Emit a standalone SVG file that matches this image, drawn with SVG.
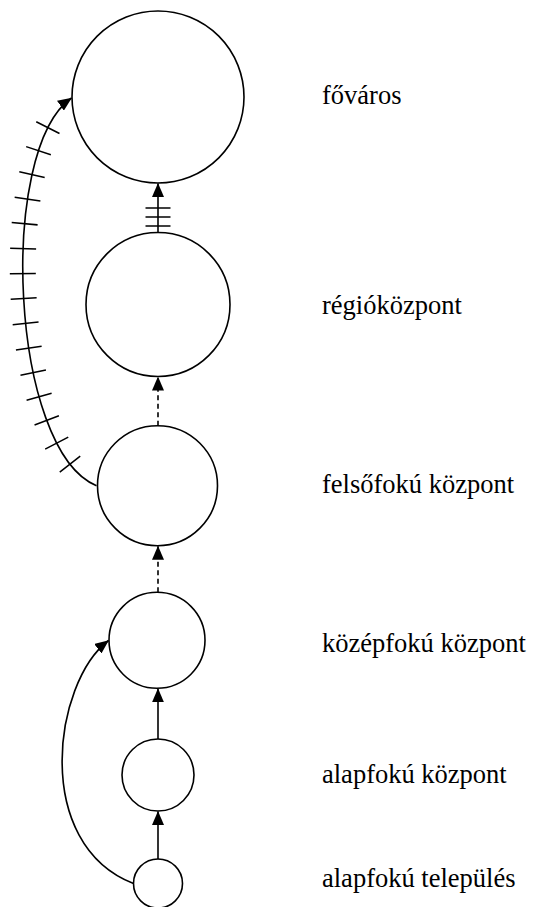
<svg xmlns="http://www.w3.org/2000/svg" width="533" height="907" viewBox="0 0 533 907">
  <style>
    .node { fill: #fff; stroke: #000; stroke-width: 1.6; }
    .label { font-family: "Liberation Serif", "Times New Roman", serif; font-size: 26.5px; fill: #000; }
    .edge { fill: none; stroke: #000; stroke-width: 1.6; }
    .dashed { stroke-dasharray: 5 3.5; }
    .tick { fill: none; stroke: #000; stroke-width: 1.5; }
  </style>
  <defs>
    <marker id="arrow" markerUnits="userSpaceOnUse" viewBox="0 0 14 12" refX="13.5" refY="6" markerWidth="14" markerHeight="12" orient="auto">
      <path d="M0,0 L14,6 L0,12 Z" fill="#000"/>
    </marker>
  </defs>
  <rect width="533" height="907" fill="#fff"/>

  <g id="connectors">
    <!-- felsőfokú központ -> főváros, hatched curve -->
    <path class="edge" d="M96.5,485.7 C10,450 -3,150 71.5,98" marker-end="url(#arrow)"/>
    <path d="M96.5,485.7 C10,450 -3,150 71.5,98" fill="none" stroke="#000" stroke-width="26" pathLength="421"
          stroke-dasharray="0 33.8 1.5 23.37 1.5 23.37 1.5 23.37 1.5 23.37 1.5 23.37 1.5 23.37 1.5 23.37 1.5 23.37 1.5 23.37 1.5 23.37 1.5 23.37 1.5 23.37 1.5 23.37 1.5 23.37 1.5 1000"/>
    <!-- régióközpont -> főváros, triple bar -->
    <path class="edge" d="M158,232.5 L158,183.5" marker-end="url(#arrow)"/>
    <line class="tick" x1="145.5" y1="208" x2="170.5" y2="208"/>
    <line class="tick" x1="145.5" y1="217" x2="170.5" y2="217"/>
    <line class="tick" x1="145.5" y1="226" x2="170.5" y2="226"/>
    <!-- felsőfokú központ -> régióközpont -->
    <path class="edge dashed" d="M158,425.7 L158,377" marker-end="url(#arrow)"/>
    <!-- középfokú központ -> felsőfokú központ -->
    <path class="edge dashed" d="M158,592.3 L158,546.3" marker-end="url(#arrow)"/>
    <!-- alapfokú központ -> középfokú központ -->
    <path class="edge" d="M158,739 L158,688.8" marker-end="url(#arrow)"/>
    <!-- alapfokú település -> alapfokú központ -->
    <path class="edge" d="M158,859 L158,811.5" marker-end="url(#arrow)"/>
    <!-- alapfokú település -> középfokú központ -->
    <path class="edge" d="M133.5,883.5 C32,844 53,683 108.5,640.5" marker-end="url(#arrow)"/>
  </g>

  <g id="fovaros">
    <circle class="node" cx="158" cy="97" r="86"/>
    <text class="label" x="322" y="104.3">főváros</text>
  </g>
  <g id="regiokozpont">
    <circle class="node" cx="158" cy="304.5" r="72"/>
    <text class="label" x="322" y="314.3">régióközpont</text>
  </g>
  <g id="felsofoku-kozpont">
    <circle class="node" cx="157.5" cy="485.7" r="60"/>
    <text class="label" x="322" y="493.3">felsőfokú központ</text>
  </g>
  <g id="kozepfoku-kozpont">
    <circle class="node" cx="157" cy="640.3" r="48"/>
    <text class="label" x="322" y="651.7">középfokú központ</text>
  </g>
  <g id="alapfoku-kozpont">
    <circle class="node" cx="158" cy="775" r="36"/>
    <text class="label" x="322" y="782.7">alapfokú központ</text>
  </g>
  <g id="alapfoku-telepules">
    <circle class="node" cx="158" cy="883.5" r="24.5"/>
    <text class="label" x="322" y="886.7">alapfokú település</text>
  </g>
</svg>
